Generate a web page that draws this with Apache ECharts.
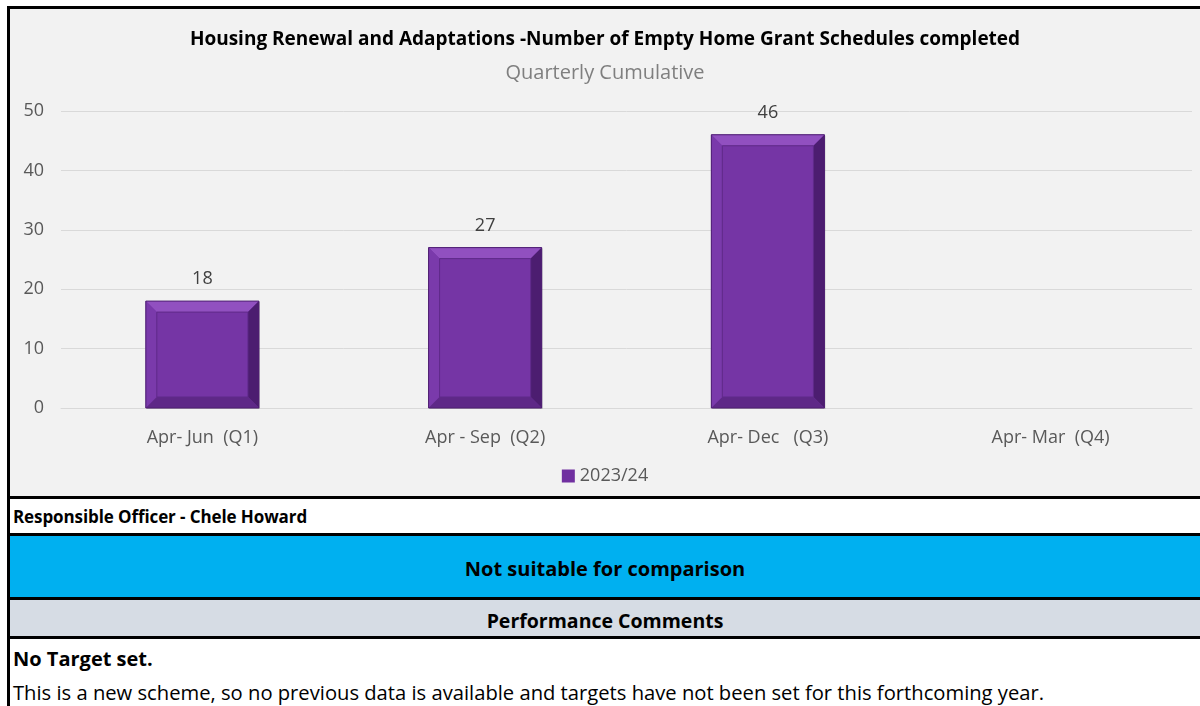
<!DOCTYPE html>
<html>
<head>
<meta charset="utf-8">
<script src="https://cdn.jsdelivr.net/npm/echarts@6/dist/echarts.min.js"></script>
<style>
	body{margin:0;background:#fff;width:1200px;height:706px;overflow:hidden;font-family:"Open Sans",sans-serif;}
	#frame{position:absolute;left:7px;top:6px;width:1200px;height:700px;border-left:3px solid #000;border-top:3px solid #000;}
	#chart{position:absolute;left:10px;top:9px;width:1190px;height:487px;background:#f2f2f2;}
	.row{position:absolute;left:10px;width:1190px;box-sizing:border-box;color:#000;}
	#officer{top:496px;height:39px;border-top:3px solid #000;background:#fff;font-weight:bold;font-size:17px;line-height:35px;padding-left:3px;letter-spacing:-0.1px;}
	#status{top:533px;height:66px;border-top:3px solid #000;background:#00b0f0;font-weight:bold;font-size:20px;line-height:66px;text-align:center;}
	#perf{top:597px;height:41px;border-top:3px solid #000;background:#d6dce4;font-weight:bold;font-size:19.5px;line-height:42px;text-align:center;}
	#comments{top:636px;height:70px;border-top:3px solid #000;background:#fff;padding-left:3px;}
	#comments .b{font-weight:bold;font-size:20px;line-height:26px;margin-top:7px;}
	#comments .n{font-size:20.2px;line-height:26px;margin-top:7px;}
</style>
</head>
<body>
<div id="frame"></div>
<div id="chart"></div>
<div class="row" id="officer">Responsible Officer - Chele Howard</div>
<div class="row" id="status">Not suitable for comparison</div>
<div class="row" id="perf">Performance Comments</div>
<div class="row" id="comments">
	<div class="b">No Target set.</div>
	<div class="n">This is a new scheme, so no previous data is available and targets have not been set for this forthcoming year.</div>
</div>
<script>
	//图表数据
	var quarterList = ['Apr- Jun  (Q1)', 'Apr - Sep  (Q2)', 'Apr- Dec   (Q3)', 'Apr- Mar  (Q4)'];
	var seriesName = '2023/24';
	var schedulesData = [18, 27, 46, null];
	var yTicks = {min: 0, max: 50, interval: 10};

	var myChart = echarts.init(document.getElementById('chart'));
	var fontName = '"Open Sans", sans-serif';
	var barRatio = 0.4;

	//斜面柱子 (bevel)
	function renderBevelBar(params, api) {
		var val = api.value(1);
		if (val == null || isNaN(val)) return;
		var top = api.coord([api.value(0), val]);
		var base = api.coord([api.value(0), 0]);
		var w = api.size([1, 0])[0] * barRatio;
		var x0 = top[0] - w / 2, x1 = top[0] + w / 2;
		var y0 = top[1], y1 = base[1];
		var b = 11;
		function poly(pts, color) {
			return {type: 'polygon', shape: {points: pts}, style: {fill: color}};
		}
		return {
			type: 'group',
			children: [
				{type: 'rect', shape: {x: x0 + 1, y: y0 + 1, width: w, height: y1 - y0}, style: {fill: 'rgba(0,0,0,0.18)'}},
				{type: 'rect', shape: {x: x0, y: y0, width: w, height: y1 - y0}, style: {fill: '#7535a5'}},
				poly([[x0, y0], [x1, y0], [x1 - b, y0 + b], [x0 + b, y0 + b]], '#9150c0'),
				poly([[x0, y0], [x0 + b, y0 + b], [x0 + b, y1 - b], [x0, y1]], '#7a3aab'),
				poly([[x1, y0], [x1, y1], [x1 - b, y1 - b], [x1 - b, y0 + b]], '#4c1d70'),
				poly([[x0, y1], [x0 + b, y1 - b], [x1 - b, y1 - b], [x1, y1]], '#5e2887'),
				{type: 'rect', shape: {x: x0 + b, y: y0 + b, width: w - 2 * b, height: y1 - y0 - 2 * b},
					style: {fill: '#7535a5', stroke: '#5f2a89', lineWidth: 1}},
				{type: 'rect', shape: {x: x0, y: y0, width: w, height: y1 - y0},
					style: {fill: 'none', stroke: '#4e1f72', lineWidth: 1}}
			]
		};
	}

	var options = {
		backgroundColor: '#f2f2f2',
		title: [
			{
				text: 'Housing Renewal and Adaptations -Number of Empty Home Grant Schedules completed',
				left: 'center',
				top: 16,
				textStyle: {fontFamily: fontName, fontSize: 19, fontWeight: 'bold', color: '#000'}
			},
			{
				text: 'Quarterly Cumulative',
				left: 'center',
				top: 49,
				textStyle: {fontFamily: fontName, fontSize: 20, fontWeight: 'normal', color: '#7f7f7f'}
			}
		],
		legend: {
			data: [seriesName],
			bottom: 6,
			left: 'center',
			icon: 'rect',
			itemWidth: 13,
			itemHeight: 13,
			itemGap: 4,
			textStyle: {fontFamily: fontName, fontSize: 18, color: '#595959'}
		},
		grid: {left: 51, right: 8, top: 102, bottom: 88},
		xAxis: {
			type: 'category',
			data: quarterList,
			axisLine: {lineStyle: {color: '#d9d9d9', width: 1}},
			axisTick: {show: false},
			axisLabel: {fontFamily: fontName, fontSize: 18, color: '#595959', margin: 21}
		},
		yAxis: {
			type: 'value',
			min: yTicks.min,
			max: yTicks.max,
			interval: yTicks.interval,
			axisLine: {show: false},
			axisTick: {show: false},
			splitLine: {lineStyle: {color: '#d9d9d9', width: 1}},
			axisLabel: {fontFamily: fontName, fontSize: 18, color: '#595959', margin: 17}
		},
		series: [
			{
				name: seriesName,
				type: 'bar',
				data: schedulesData,
				barWidth: (barRatio * 100) + '%',
				itemStyle: {color: '#7030a0'},
				label: {
					show: true,
					position: 'top',
					distance: 13,
					fontFamily: fontName,
					fontSize: 18,
					color: '#404040'
				}
			},
			{
				name: seriesName,
				type: 'custom',
				renderItem: renderBevelBar,
				data: schedulesData.map(function(v, i){ return [i, v]; }),
				itemStyle: {color: '#7030a0'},
				z: 3
			}
		]
	};
	myChart.setOption(options);
</script>
</body>
</html>
